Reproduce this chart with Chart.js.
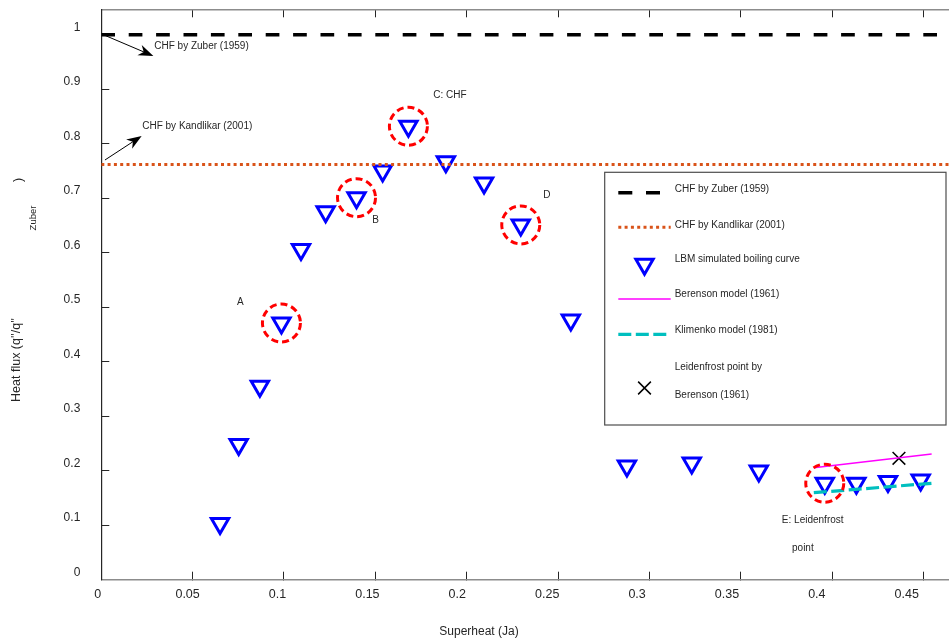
<!DOCTYPE html>
<html>
<head>
<meta charset="utf-8">
<script src="https://cdn.jsdelivr.net/npm/chart.js@4.4.1/dist/chart.umd.min.js"></script>
<style>
html,body{margin:0;padding:0;background:#fff;overflow:hidden}
#wrap{width:949px;height:642px;position:relative}
</style>
</head>
<body>
<div id="wrap"><canvas id="c" width="949" height="642"></canvas></div>
<script>
// ---------------- data ----------------
const xTicks = [0, 0.05, 0.1, 0.15, 0.2, 0.25, 0.3, 0.35, 0.4, 0.45];
const yTicks = [0, 0.1, 0.2, 0.3, 0.4, 0.5, 0.6, 0.7, 0.8, 0.9, 1];

const lbmX = [0.065, 0.0752, 0.0868, 0.0986, 0.1093, 0.1228, 0.1397, 0.154, 0.1681, 0.1886,
              0.2095, 0.2296, 0.257, 0.2877, 0.3232, 0.3599, 0.396, 0.4133, 0.4306, 0.4485];
const lbmY = [0.103, 0.248, 0.355, 0.471, 0.606, 0.675, 0.701, 0.750, 0.832, 0.767,
              0.728, 0.651, 0.4765, 0.2086, 0.214, 0.1994, 0.177, 0.177, 0.180, 0.183];

const zuberX = [0, 0.464];
const zuberY = [1.0, 1.0];
const kandlikarX = [0, 0.464];
const kandlikarY = [0.762, 0.762];
const berensonX = [0.39, 0.4545];
const berensonY = [0.2055, 0.2306];
const klimenkoX = [0.39, 0.4545];
const klimenkoY = [0.1596, 0.1769];
const leidenX = [0.4366];
const leidenY = [0.2228];

const circledIdx = [3, 6, 8, 11, 16];

const seriesNames = ["CHF by Zuber (1959)", "CHF by Kandlikar (2001)", "LBM simulated boiling curve",
                     "Berenson model (1961)", "Klimenko model (1981)", "Leidenfrost point by", "Berenson (1961)"];

const textNotes = [
  {t: "A", x: 0.0761, y: 0.509, align: "center"},
  {t: "B", x: 0.1501, y: 0.660, align: "center"},
  {t: "C: CHF", x: 0.1908, y: 0.889, align: "center"},
  {t: "D", x: 0.2439, y: 0.706, align: "center"},
  {t: "E: Leidenfrost", x: 0.3894, y: 0.1086, align: "center"},
  {t: "point", x: 0.3840, y: 0.0582, align: "center"},
  {t: "CHF by Zuber (1959)", x: 0.0290, y: 0.978, align: "left"},
  {t: "CHF by Kandlikar (2001)", x: 0.0224, y: 0.8312, align: "left"}
];
const arrowNotes = [
  {x0: 0.0011, y0: 1.0, x1: 0.0285, y1: 0.9609},
  {x0: 0.0020, y0: 0.7701, x1: 0.0221, y1: 0.8141}
];

// ---------------- styles ----------------
const FONT = "'Liberation Sans', Arial, Helvetica, sans-serif";
const TXT = '#262626';
const C_ZUBER = '#000000', C_KAND = '#D95319', C_LBM = '#0000FF', C_BER = '#FF00FF', C_KLIM = '#00BFBF', C_RED = '#FF0000';
Chart.defaults.font.family = FONT;

const pts = (xs, ys) => xs.map((x, i) => ({x: x, y: ys[i]}));
const fmt = v => String(+(+v).toFixed(2));
const zeroPad = s => { s.paddingLeft = 0; s.paddingRight = 0; s.paddingTop = 0; s.paddingBottom = 0; };

function drawTri(ctx, x, y, r) {
  ctx.beginPath();
  ctx.moveTo(x, y + r);
  ctx.lineTo(x - r * 0.8660254, y - r / 2);
  ctx.lineTo(x + r * 0.8660254, y - r / 2);
  ctx.closePath();
  ctx.stroke();
}
function drawX(ctx, x, y, r) {
  const d = r * 0.7071;
  ctx.beginPath();
  ctx.moveTo(x - d, y - d); ctx.lineTo(x + d, y + d);
  ctx.moveTo(x - d, y + d); ctx.lineTo(x + d, y - d);
  ctx.stroke();
}
function drawArrow(ctx, x0, y0, x1, y1) {
  const ang = Math.atan2(y1 - y0, x1 - x0);
  const L = 15, W = 5.5;
  ctx.beginPath(); ctx.moveTo(x0, y0);
  ctx.lineTo(x1 - Math.cos(ang) * L * 0.6, y1 - Math.sin(ang) * L * 0.6);
  ctx.stroke();
  const bx = x1 - Math.cos(ang) * L, by = y1 - Math.sin(ang) * L;
  const nx = -Math.sin(ang), ny = Math.cos(ang);
  ctx.beginPath();
  ctx.moveTo(x1, y1);
  ctx.lineTo(bx + nx * W, by + ny * W);
  ctx.lineTo(x1 - Math.cos(ang) * L * 0.7, y1 - Math.sin(ang) * L * 0.7);
  ctx.lineTo(bx - nx * W, by - ny * W);
  ctx.closePath();
  ctx.fill();
}

const overlay = {
  id: 'overlay',
  afterDatasetsDraw(chart) {
    const ctx = chart.ctx;
    const xs = chart.scales.x, ys = chart.scales.y;
    const px = v => xs.getPixelForValue(v), py = v => ys.getPixelForValue(v);
    ctx.save();
    // red dashed circles around highlighted points
    ctx.strokeStyle = C_RED; ctx.lineWidth = 3; ctx.setLineDash([7, 4]);
    circledIdx.forEach(i => {
      ctx.beginPath(); ctx.arc(px(lbmX[i]), py(lbmY[i]), 19, 0, Math.PI * 2); ctx.stroke();
    });
    ctx.setLineDash([]);
    // arrows
    ctx.strokeStyle = '#000'; ctx.fillStyle = '#000'; ctx.lineWidth = 1;
    arrowNotes.forEach(a => drawArrow(ctx, px(a.x0), py(a.y0), px(a.x1), py(a.y1)));
    // text notes
    ctx.fillStyle = TXT; ctx.font = '10px ' + FONT; ctx.textBaseline = 'middle';
    textNotes.forEach(n => { ctx.textAlign = n.align; ctx.fillText(n.t, px(n.x), py(n.y)); });

    // legend box
    const L = 604.7, T = 172.3, R = 946, B = 425;
    ctx.fillStyle = '#fff'; ctx.fillRect(L, T, R - L, B - T);
    ctx.strokeStyle = '#4d4d4d'; ctx.lineWidth = 1.2; ctx.strokeRect(L, T, R - L, B - T);
    const sx0 = 618.3, sx1 = 670.7, tx = 674.7;
    ctx.lineCap = 'butt';
    // Zuber
    ctx.strokeStyle = C_ZUBER; ctx.lineWidth = 3.5; ctx.setLineDash([14, 13.7]);
    ctx.beginPath(); ctx.moveTo(sx0, 192.7); ctx.lineTo(660.2, 192.7); ctx.stroke();
    // Kandlikar
    ctx.strokeStyle = C_KAND; ctx.lineWidth = 3; ctx.setLineDash([3, 3.3]);
    ctx.beginPath(); ctx.moveTo(sx0, 227.3); ctx.lineTo(sx1, 227.3); ctx.stroke();
    ctx.setLineDash([]);
    // LBM
    ctx.strokeStyle = C_LBM; ctx.lineWidth = 3; drawTri(ctx, 644.5, 264.2, 10);
    // Berenson
    ctx.strokeStyle = C_BER; ctx.lineWidth = 1.5;
    ctx.beginPath(); ctx.moveTo(sx0, 299); ctx.lineTo(sx1, 299); ctx.stroke();
    // Klimenko
    ctx.strokeStyle = C_KLIM; ctx.lineWidth = 3.2; ctx.setLineDash([13, 4.5]);
    ctx.beginPath(); ctx.moveTo(sx0, 334.3); ctx.lineTo(sx1, 334.3); ctx.stroke();
    ctx.setLineDash([]);
    // Leidenfrost
    ctx.strokeStyle = '#000'; ctx.lineWidth = 1.5; drawX(ctx, 644.5, 388, 9);
    // legend texts
    ctx.fillStyle = TXT; ctx.font = '10px ' + FONT; ctx.textAlign = 'left'; ctx.textBaseline = 'middle';
    const ty = [189, 225, 259.7, 294.7, 330.7, 367.3, 395];
    seriesNames.forEach((s, i) => ctx.fillText(s, tx, ty[i]));

    // axis titles
    ctx.font = '12px ' + FONT; ctx.fillStyle = TXT; ctx.textAlign = 'center';
    ctx.fillText('Superheat (Ja)', 479, 632);
    ctx.save(); ctx.translate(17, 360); ctx.rotate(-Math.PI / 2);
    ctx.font = '12.5px ' + FONT;
    ctx.fillText("Heat flux (q''/q''", 0, 0); ctx.restore();
    ctx.save(); ctx.translate(33, 218); ctx.rotate(-Math.PI / 2);
    ctx.font = '9.5px ' + FONT; ctx.fillText('Zuber', 0, 0); ctx.restore();
    ctx.save(); ctx.translate(19, 180); ctx.rotate(-Math.PI / 2);
    ctx.font = '12.5px ' + FONT; ctx.fillText(')', 0, 0); ctx.restore();
    ctx.restore();
  }
};

const tickGrid = {drawOnChartArea: false, drawTicks: true, tickLength: -8, color: '#262626', lineWidth: 1};

new Chart(document.getElementById('c'), {
  type: 'scatter',
  data: {
    datasets: [
      {label: seriesNames[0], data: pts(zuberX, zuberY), showLine: true, borderColor: C_ZUBER, borderWidth: 3.5,
       borderDash: [13.7, 13.7], pointRadius: 0, xAxisID: 'x', yAxisID: 'y'},
      {label: seriesNames[1], data: pts(kandlikarX, kandlikarY), showLine: true, borderColor: C_KAND, borderWidth: 3,
       borderDash: [3, 3.3], pointRadius: 0, xAxisID: 'x', yAxisID: 'y'},
      {label: seriesNames[3], data: pts(berensonX, berensonY), showLine: true, borderColor: C_BER, borderWidth: 1.5,
       pointRadius: 0, xAxisID: 'x', yAxisID: 'y'},
      {label: seriesNames[4], data: pts(klimenkoX, klimenkoY), showLine: true, borderColor: C_KLIM, borderWidth: 3.2,
       borderDash: [13, 4.5], pointRadius: 0, xAxisID: 'x', yAxisID: 'y'},
      {label: seriesNames[2], data: pts(lbmX, lbmY), showLine: false, pointStyle: 'triangle', rotation: 180,
       pointRadius: 10, pointBorderWidth: 3, pointBorderColor: C_LBM, pointBackgroundColor: 'rgba(0,0,0,0)',
       borderColor: C_LBM, xAxisID: 'x', yAxisID: 'y'},
      {label: 'Leidenfrost point by Berenson (1961)', data: pts(leidenX, leidenY), showLine: false, pointStyle: 'crossRot',
       pointRadius: 9, pointBorderWidth: 1.5, pointBorderColor: '#000', borderColor: '#000', xAxisID: 'x', yAxisID: 'y'}
    ]
  },
  options: {
    responsive: false, animation: false, devicePixelRatio: 1, events: [],
    layout: {padding: 0, autoPadding: false},
    plugins: {legend: {display: false}, tooltip: {enabled: false}, title: {display: false}},
    scales: {
      x: {type: 'linear', position: 'bottom', weight: 0, min: 0, max: 0.464,
          afterBuildTicks: s => { s.ticks = xTicks.map(v => ({value: v})); },
          afterFit: s => { s.height = 0; zeroPad(s); },
          ticks: {display: false},
          grid: tickGrid,
          border: {display: true, color: '#8c8c8c', width: 1.5}},
      xl: {type: 'linear', position: 'bottom', weight: 1, min: 0.002, max: 0.4735,
          afterBuildTicks: s => { s.ticks = xTicks.map(v => ({value: v})); },
          afterFit: s => { s.height = 62.3; zeroPad(s); },
          ticks: {padding: 7.5, color: TXT, font: {size: 12.5}, callback: fmt, maxRotation: 0, autoSkip: false},
          grid: {display: false, drawTicks: false}, border: {display: false}},
      xt: {type: 'linear', position: 'top', min: 0, max: 0.464,
          afterBuildTicks: s => { s.ticks = xTicks.map(v => ({value: v})); },
          afterFit: s => { s.height = 9.3; zeroPad(s); },
          ticks: {display: false},
          grid: tickGrid,
          border: {display: true, color: '#8c8c8c', width: 1.5}},
      y: {type: 'linear', position: 'left', min: 0, max: 1.0466,
          afterBuildTicks: s => { s.ticks = yTicks.map(v => ({value: v})); },
          afterFit: s => { s.width = 101.3; zeroPad(s); },
          ticks: {padding: 29, labelOffset: -7.5, color: TXT, font: {size: 12}, callback: fmt, autoSkip: false},
          grid: tickGrid,
          border: {display: true, color: '#262626', width: 1.2}}
    }
  },
  plugins: [overlay]
});
</script>
</body>
</html>
